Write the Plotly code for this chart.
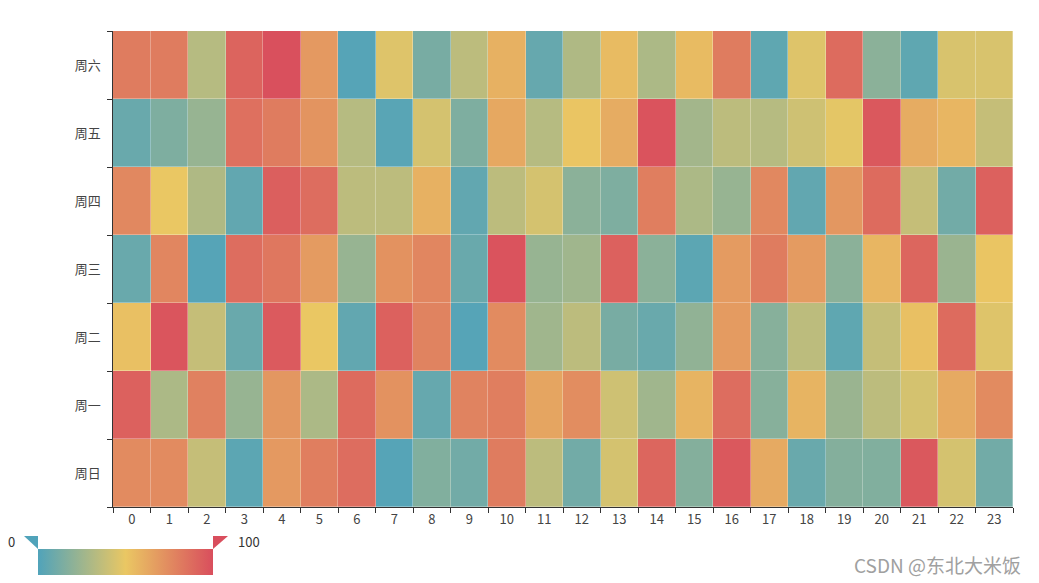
import plotly.graph_objects as go

hours = [str(h) for h in range(24)]
days = ["周日", "周一", "周二", "周三", "周四", "周五", "周六"]

# values per day (bottom row first), hours 0..23
sun = [75, 75, 38, 4, 69, 80, 87, 2, 16, 11, 81, 35, 11, 43, 90, 17, 96, 62, 8, 17, 16, 96, 43, 11]
mon = [92, 30, 79, 23, 70, 30, 88, 72, 7, 78, 80, 64, 74, 41, 26, 58, 87, 18, 58, 24, 35, 43, 62, 75]
tue = [53, 97, 38, 8, 95, 50, 6, 92, 78, 2, 75, 26, 35, 13, 8, 21, 68, 18, 35, 5, 38, 53, 88, 46]
wed = [8, 77, 2, 87, 83, 68, 23, 72, 77, 8, 98, 23, 26, 92, 19, 4, 68, 81, 68, 19, 57, 90, 24, 51]
thu = [76, 50, 31, 6, 93, 87, 35, 35, 59, 6, 35, 43, 19, 15, 80, 30, 23, 76, 6, 70, 88, 38, 11, 92]
fri = [8, 15, 23, 86, 81, 71, 33, 3, 43, 15, 63, 33, 51, 61, 98, 27, 35, 33, 41, 48, 96, 61, 57, 38]
sat = [81, 81, 33, 91, 99, 69, 2, 46, 13, 35, 59, 7, 31, 55, 30, 55, 81, 5, 46, 88, 19, 5, 44, 44]

values = [sun, mon, tue, wed, thu, fri, sat]

COLORSCALE = [[0.0, "#50a3ba"], [0.5, "#eac763"], [1.0, "#d94e5d"]]

# page offset from the html body margin
OFF = 8
W, H = 1039 - OFF, 583 - OFF
L, R, T, B = 113 - OFF, 26, 31 - OFF, 76
PW, PH = W - L - R, H - T - B


def px(x):
    """page pixel x -> paper x"""
    return (x - OFF - L) / PW


def py(y):
    """page pixel y -> paper y"""
    return (H - B - (y - OFF)) / PH


fig = go.Figure(
    go.Heatmap(
        z=values,
        x=hours,
        y=days,
        zmin=0,
        zmax=100,
        colorscale=COLORSCALE,
        xgap=0.3,
        ygap=0.3,
        hovertemplate="%{y} %{x}: %{z}<extra></extra>",
        colorbar=dict(
            orientation="h",
            lenmode="pixels",
            len=175,
            thickness=26,
            x=px(125.5),
            xanchor="center",
            y=py(562),
            yanchor="middle",
            outlinewidth=0,
            showticklabels=False,
            ticks="",
            xpad=0,
            ypad=0,
        ),
    )
)

fig.add_shape(
    type="path",
    xref="paper",
    yref="paper",
    path=f"M {px(24)} {py(536)} L {px(38)} {py(536)} L {px(38)} {py(549)} Z",
    fillcolor="#50a3ba",
    line_width=0,
)
fig.add_shape(
    type="path",
    xref="paper",
    yref="paper",
    path=f"M {px(213)} {py(536)} L {px(228)} {py(536)} L {px(213)} {py(549)} Z",
    fillcolor="#d94e5d",
    line_width=0,
)

fig.add_annotation(x=px(11), y=py(541), xref="paper", yref="paper", text="0",
                   xanchor="center", yanchor="middle",
                   showarrow=False, font=dict(size=13, color="#333"))
fig.add_annotation(x=px(236), y=py(541), xref="paper", yref="paper", text="100",
                   xanchor="left", yanchor="middle",
                   showarrow=False, font=dict(size=13, color="#333"))
fig.add_annotation(x=px(1023), y=py(564), xref="paper", yref="paper", text="CSDN @东北大米饭",
                   xanchor="right", yanchor="middle",
                   showarrow=False, font=dict(size=19, color="#a0a0a0"))

fig.update_layout(
    width=W,
    height=H,
    margin=dict(l=L, r=R, t=T, b=B, autoexpand=False),
    plot_bgcolor="white",
    paper_bgcolor="white",
    font=dict(family="Noto Sans CJK SC, sans-serif", size=13, color="#444"),
)
fig.update_xaxes(
    type="category",
    tickson="boundaries",
    ticks="outside",
    ticklen=5,
    tickcolor="#333",
    showline=True,
    linecolor="#333",
    showgrid=False,
    zeroline=False,
    tickfont=dict(size=13, color="#444"),
)
fig.update_yaxes(
    type="category",
    tickson="boundaries",
    ticks="outside",
    ticklen=5,
    tickcolor="#333",
    showline=True,
    linecolor="#333",
    showgrid=False,
    zeroline=False,
    ticksuffix="   ",
    tickfont=dict(size=13, color="#444"),
)

fig.write_html("out.html")
